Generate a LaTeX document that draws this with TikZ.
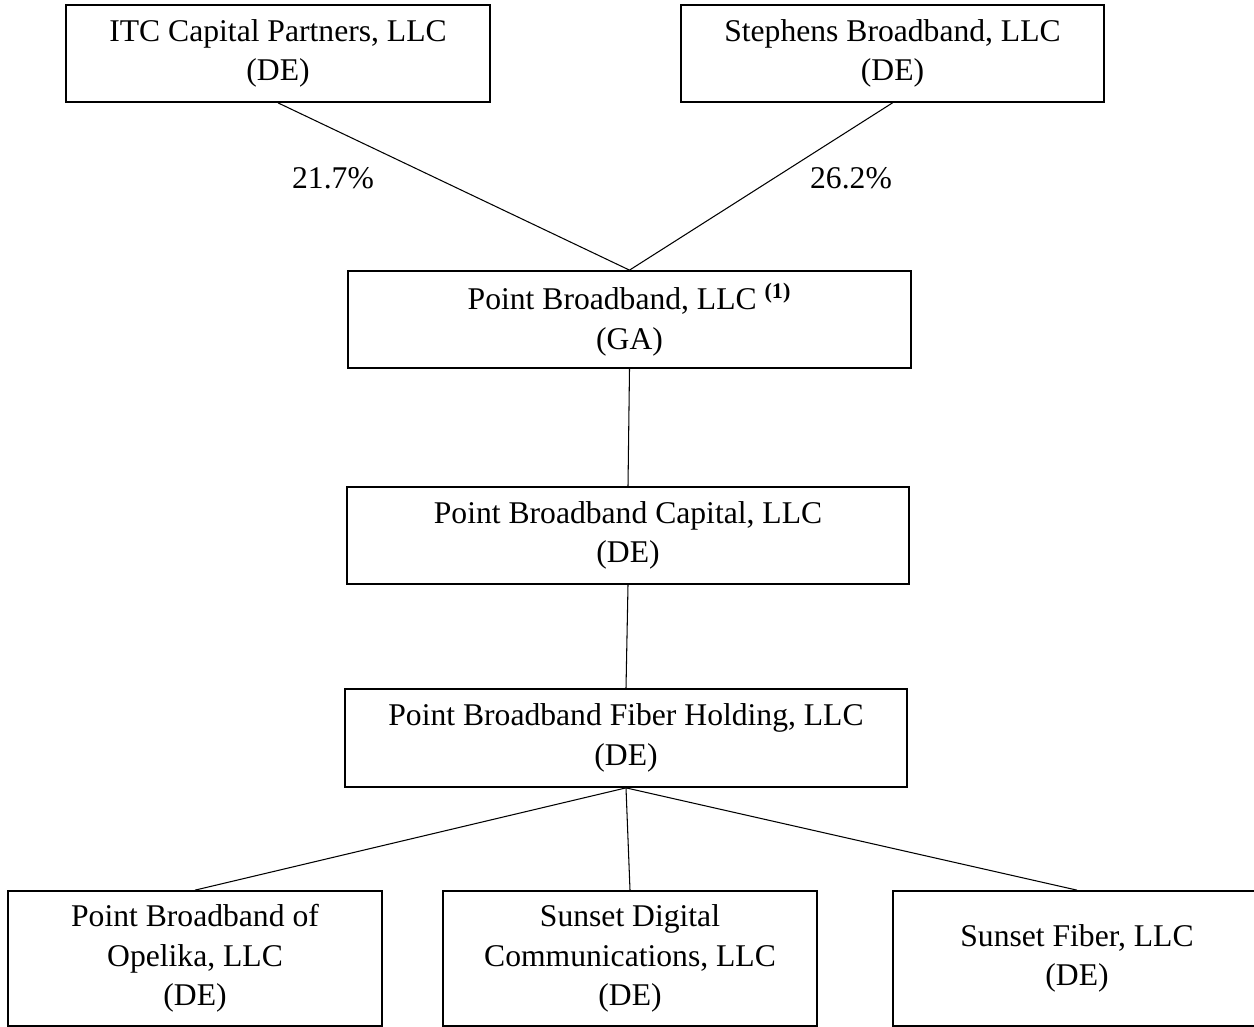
\documentclass[tikz,border=0pt]{standalone}
\usepackage{fontspec}
\setmainfont{Liberation Serif}
\usepackage{tikz}
\usetikzlibrary{positioning}
\tikzset{entity/.style={draw, line width=1pt, align=center, inner sep=0pt,
           font=\fontsize{18}{22.5}\selectfont},
         share/.style={font=\fontsize{18}{22.5}\selectfont},
         every edge/.style={draw, line width=0.6pt}}

\begin{document}
\begin{tikzpicture}[x=0.02cm, y=-0.02cm]
  \useasboundingbox (0,0) rectangle (1254,1027);

  \node[entity, minimum width=8.48cm, minimum height=1.94cm] (itc) at (278,53.5) {ITC Capital Partners, LLC\\(DE)};
  \node[entity, minimum width=8.46cm, minimum height=1.94cm] (steph) at (892.5,53.5) {Stephens Broadband, LLC\\(DE)};

  \node[entity, minimum width=11.26cm, minimum height=1.94cm] (pb) at (629.5,319.5) {Point Broadband, LLC \textsuperscript{\textbf{(1)}}\\(GA)};
  \node[entity, minimum width=11.24cm, minimum height=1.94cm] (pbc) at (628,535.5) {Point Broadband Capital, LLC\\(DE)};
  \node[entity, minimum width=11.24cm, minimum height=1.96cm] (pbf) at (626,738) {Point Broadband Fiber Holding, LLC\\(DE)};

  \node[entity, minimum width=7.48cm, minimum height=2.7cm] (opel) at (195,958.5) {Point Broadband of\\Opelika, LLC\\(DE)};
  \node[entity, minimum width=7.48cm, minimum height=2.7cm] (sdc) at (630,958.5) {Sunset Digital\\Communications, LLC\\(DE)};
  \node[entity, minimum width=7.36cm, minimum height=2.7cm] (sf) at (1077,958.5) {Sunset Fiber, LLC\\(DE)};

  \node[share] (p1) at (333,178) {21.7\%};
  \node[share] (p2) at (851,178) {26.2\%};

  \path (itc.south) edge (pb.north)
        (steph.south) edge (pb.north)
        (pb.south) edge (pbc.north)
        (pbc.south) edge (pbf.north)
        (pbf.south) edge (opel.north)
        (pbf.south) edge (sdc.north)
        (pbf.south) edge (sf.north);

\end{tikzpicture}
\end{document}
